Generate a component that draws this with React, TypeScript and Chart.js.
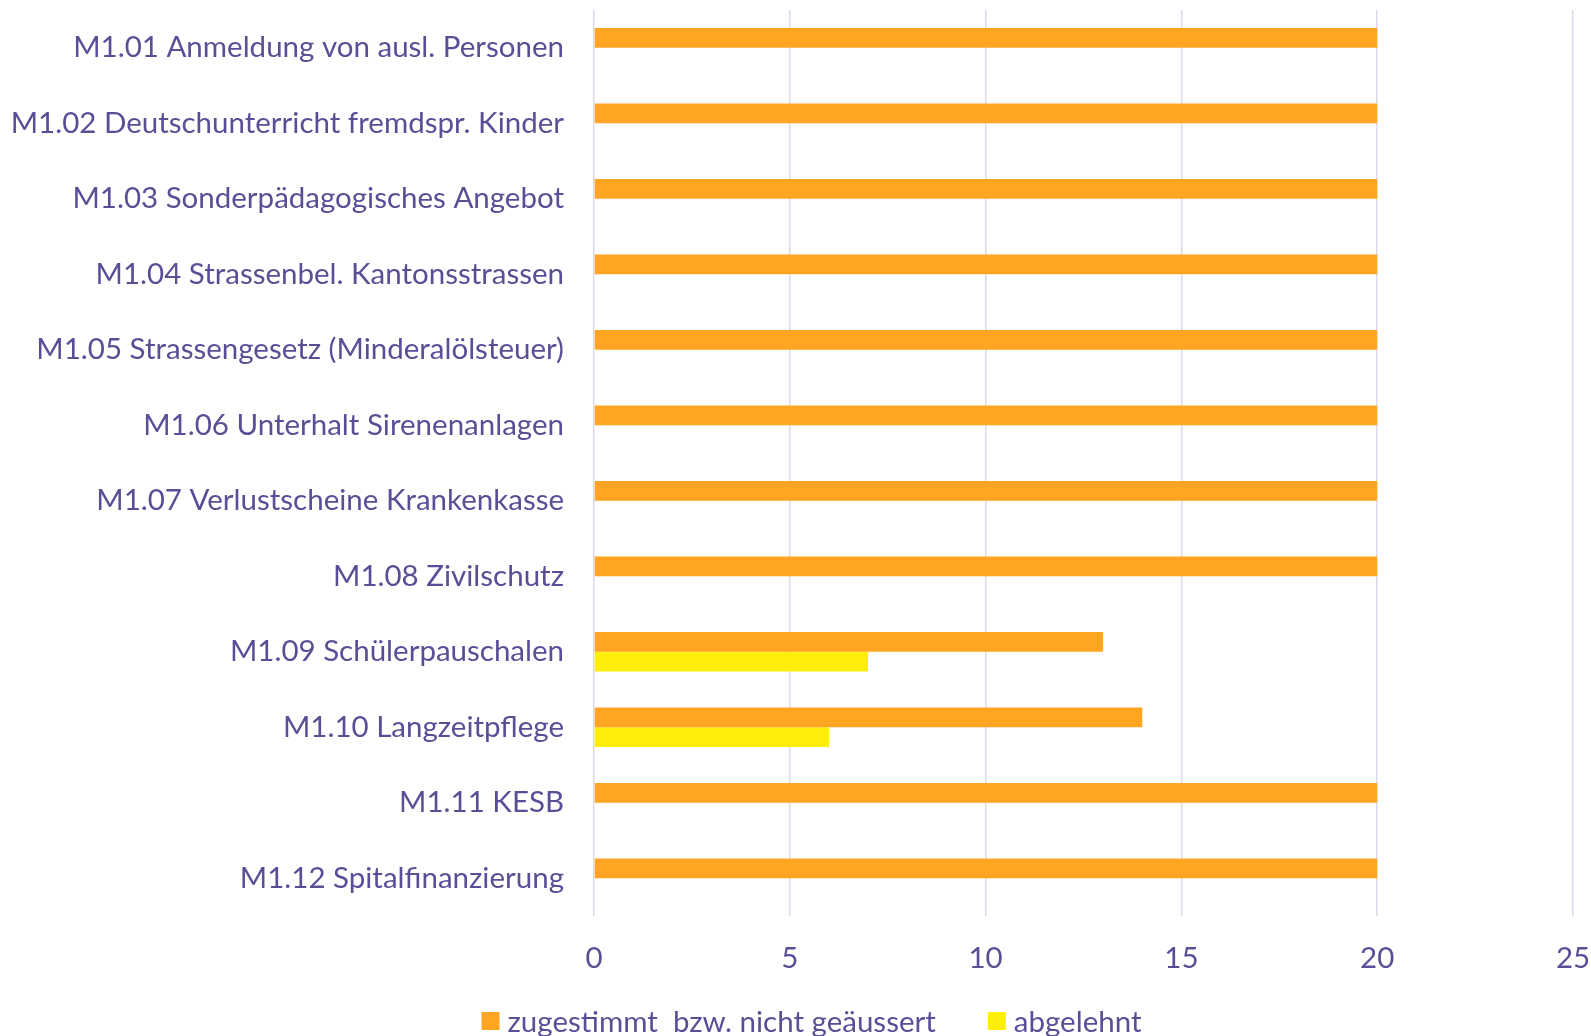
import React, { useEffect, useRef } from "react";
import { Chart, registerables } from "chart.js";

Chart.register(...registerables);

const categories = [
  "M1.01 Anmeldung von ausl. Personen",
  "M1.02 Deutschunterricht fremdspr. Kinder",
  "M1.03 Sonderpädagogisches Angebot",
  "M1.04 Strassenbel. Kantonsstrassen",
  "M1.05 Strassengesetz (Minderalölsteuer)",
  "M1.06 Unterhalt Sirenenanlagen",
  "M1.07 Verlustscheine Krankenkasse",
  "M1.08 Zivilschutz",
  "M1.09 Schülerpauschalen",
  "M1.10 Langzeitpflege",
  "M1.11 KESB",
  "M1.12 Spitalfinanzierung",
];
const zugestimmt = [20, 20, 20, 20, 20, 20, 20, 20, 13, 14, 20, 20];
const abgelehnt = [0, 0, 0, 0, 0, 0, 0, 0, 7, 6, 0, 0];
const seriesNames = ["zugestimmt  bzw. nicht geäussert", "abgelehnt"];
const xTicks = [0, 5, 10, 15, 20, 25];

const TEXT = "#5B4E96";
const ORANGE = "#FFA521";
const YELLOW = "#FFEE0A";
const GRID = "#DCD9EA";
const FONT = "Lato, 'Open Sans', sans-serif";
const FONT_SIZE = 29.5;

const customLegend = {
  id: "customLegend",
  afterDraw(chart: any) {
    const ctx = chart.ctx;
    const ds = chart.data.datasets;
    ctx.save();
    ctx.font = `${FONT_SIZE}px ${FONT}`;
    ctx.textBaseline = "middle";
    const box = 18;
    const gapBoxText = 8;
    const gapItems = 52;
    const widths = ds.map((d: any) => box + gapBoxText + ctx.measureText(d.label).width);
    const total = widths.reduce((a: number, b: number) => a + b, 0) + gapItems * (ds.length - 1);
    let x = (chart.width - total) / 2 + 16;
    const cy = 1021;
    ds.forEach((d: any, i: number) => {
      ctx.fillStyle = d.backgroundColor;
      ctx.fillRect(x, cy - box / 2, box, box);
      ctx.fillStyle = TEXT;
      ctx.textAlign = "left";
      ctx.fillText(d.label, x + box + gapBoxText, cy + 1);
      x += widths[i] + gapItems;
    });
    ctx.restore();
  },
};

export default function App() {
  const ref = useRef<HTMLCanvasElement | null>(null);
  useEffect(() => {
    document.body.style.margin = "0";
    if (!ref.current) return;
    const chart = new Chart(ref.current, {
      type: "bar",
      data: {
        labels: categories,
        datasets: [
          {
            label: seriesNames[0],
            data: zugestimmt,
            backgroundColor: ORANGE,
            categoryPercentage: 0.52,
            barPercentage: 1,
          },
          {
            label: seriesNames[1],
            data: abgelehnt,
            backgroundColor: YELLOW,
            categoryPercentage: 0.52,
            barPercentage: 1,
          },
        ],
      },
      options: {
        indexAxis: "y",
        animation: false,
        responsive: false,
        maintainAspectRatio: false,
        layout: { padding: { top: 10, right: 18, bottom: 0, left: 0 } },
        plugins: {
          legend: { display: false },
          tooltip: { enabled: false },
        },
        scales: {
          x: {
            min: 0,
            max: 25,
            afterBuildTicks: (scale: any) => {
              scale.ticks = xTicks.map((v) => ({ value: v }));
            },
            afterFit: (scale: any) => {
              scale.height = 120;
              scale.paddingLeft = 0;
              scale.paddingRight = 0;
            },
            grid: { color: GRID, lineWidth: 1.5, drawTicks: false },
            border: { display: false },
            ticks: {
              color: TEXT,
              padding: 25,
              maxRotation: 0,
              font: { family: FONT, size: FONT_SIZE },
            },
          },
          y: {
            afterFit: (scale: any) => {
              scale.width = 594;
              scale.paddingTop = 0;
              scale.paddingBottom = 0;
            },
            grid: { display: false, drawTicks: false },
            border: { display: false },
            ticks: {
              color: TEXT,
              padding: 30,
              font: { family: FONT, size: FONT_SIZE },
            },
          },
        },
      },
      plugins: [customLegend],
    });
    return () => chart.destroy();
  }, []);
  return (
    <div style={{ position: "relative", width: 1591, height: 1036 }}>
      <canvas ref={ref} width={1591} height={1036} style={{ display: "block" }} />
    </div>
  );
}
